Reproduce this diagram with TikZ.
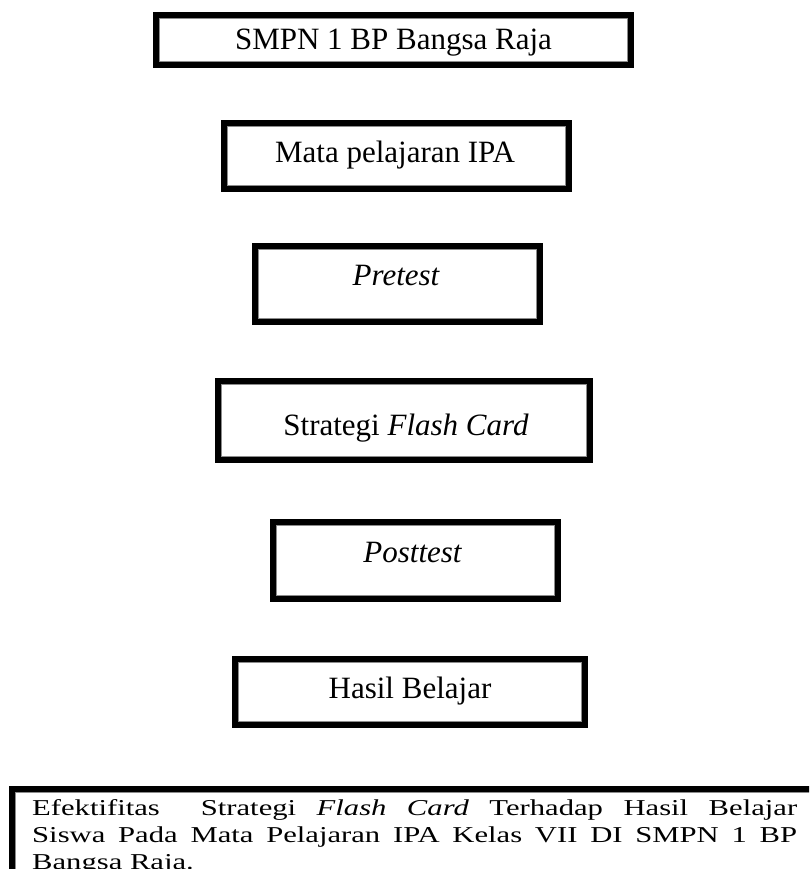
\documentclass[tikz,border=0pt]{standalone}
\usepackage{fontspec}
\setmainfont{Liberation Serif}
\newfontfamily\btfont[FakeStretch=1.35]{Liberation Serif}
\begin{document}
\begin{tikzpicture}[x=1pt,y=-1pt,
  box/.style={draw=black, line width=6pt, fill=white, inner sep=0pt, outer sep=0pt},
  lbl/.style={font=\fontsize{31}{37}\selectfont, inner sep=0pt, anchor=base},
  btxt/.style={font=\btfont\fontsize{22.7}{27}\selectfont, inner sep=0pt, anchor=base west},
  innerline/.style={draw=black!45, line width=0.7pt}]
\useasboundingbox (0,0) rectangle (809,869);
\clip (0,0) rectangle (809,869);
\node[box, minimum width=475pt, minimum height=50pt] (b1) at (393.5,40) {};
\node[box, minimum width=345pt, minimum height=66pt] (b2) at (396.5,156) {};
\node[box, minimum width=285pt, minimum height=76pt] (b3) at (397.5,284) {};
\node[box, minimum width=372pt, minimum height=79pt] (b4) at (404,420.5) {};
\node[box, minimum width=285pt, minimum height=77pt] (b5) at (415.5,560.5) {};
\node[box, minimum width=350pt, minimum height=66pt] (b6) at (410,692) {};
\node[box, minimum width=815pt, minimum height=110pt] (b7) at (419.5,844) {};
\foreach \n in {b1,b2,b3,b4,b5,b6,b7}
  \draw[innerline] ([shift={(3.35pt,-3.35pt)}]\n.north west) rectangle ([shift={(-3.35pt,3.35pt)}]\n.south east);
\node[lbl] (t1) at (393.5,50) {SMPN 1 BP Bangsa Raja};
\node[lbl] (t2) at (395,163) {Mata pelajaran IPA};
\node[lbl] (t3) at (396,285) {\itshape Pretest};
\node[lbl] (t4) at (406,435) {Strategi \textit{Flash Card}};
\node[lbl] (t5) at (412.5,562) {\itshape Posttest};
\node[lbl] (t6) at (410,698) {Hasil Belajar};
\node[btxt] (l1) at (32,815) {\makebox[765pt][s]{Efektifitas\ \ Strategi \textit{Flash Card} Terhadap Hasil Belajar}};
\node[btxt] (l2) at (32,842) {\makebox[765pt][s]{Siswa Pada Mata Pelajaran IPA Kelas VII DI SMPN 1 BP}};
\node[btxt] (l3) at (32,869) {Bangsa Raja.};
\end{tikzpicture}
\end{document}
